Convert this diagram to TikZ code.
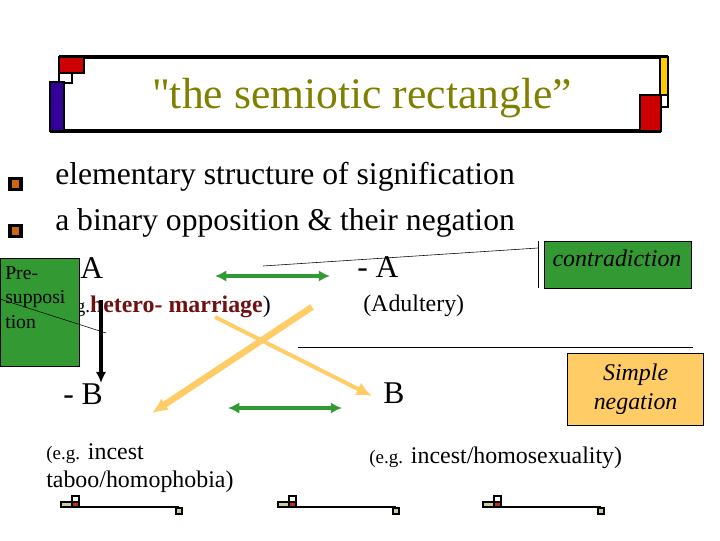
\documentclass[tikz,border=0pt]{standalone}
\usepackage{fontspec}
\setmainfont{Liberation Serif}
\usetikzlibrary{arrows.meta}
\definecolor{olivetitle}{RGB}{128,128,0}
\definecolor{boxgreen}{RGB}{51,153,51}
\definecolor{paleorange}{RGB}{255,204,102}
\definecolor{darkred}{RGB}{112,16,16}
\definecolor{bulletorange}{RGB}{204,102,17}
\definecolor{frameblue}{RGB}{51,0,153}
\definecolor{framered}{RGB}{204,0,0}
\definecolor{frameyellow}{RGB}{255,204,0}
\definecolor{beige}{RGB}{204,204,153}
\definecolor{rust}{RGB}{187,51,17}
\tikzset{
  txt/.style={anchor=base west, inner sep=0pt},
  bigtxt/.style={txt, font=\fontsize{22.5}{27}\selectfont},
  smalltxt/.style={txt, font=\fontsize{17}{20.5}\selectfont},
  framesq/.style={draw, line width=2pt},
  bulletsq/.style={draw, line width=2.8pt, fill=bulletorange, minimum size=0.275cm, inner sep=0pt},
  greenarrow/.style={draw=boxgreen, line width=2.8pt, {Latex[length=8pt,width=8pt]}-{Latex[length=8pt,width=8pt]}},
  orangearrow/.style={draw=paleorange, -{Latex[length=11pt,width=10pt]}},
  tagbox/.style={draw, line width=0.8pt, inner sep=0pt, anchor=north west},
  tagtxt/.style={inner sep=0pt, font=\fontsize{17}{20.5}\selectfont\itshape, align=center},
}
\newcommand{\egsmall}{{\fontsize{13.5}{16}\selectfont(e.g.}}
\begin{document}
\begin{tikzpicture}[x=0.025cm, y=-0.025cm]
\useasboundingbox (0,0) rectangle (720,540);
% title frame
\draw[line width=2.8pt] (59,57) -- (668,57);
\draw[line width=2.8pt] (50,131) -- (661,131);
\filldraw[fill=framered, framesq] (59,57) rectangle (84,73);
\filldraw[fill=white, framesq] (59,73) rectangle (72,83);
\filldraw[fill=frameblue, framesq] (50,82) rectangle (64,131);
\filldraw[fill=frameyellow, framesq] (660,57) rectangle (668,95);
\filldraw[fill=framered, framesq] (640,95) rectangle (661,131);
\filldraw[fill=white, framesq] (661,95) rectangle (668,107);
\node[anchor=base, inner sep=0pt, text=olivetitle, font=\fontsize{31}{37}\selectfont] (title) at (362,108) {{\addfontfeature{Ligatures=TeXOff}"}the semiotic rectangle”};

% bullets
\node[bulletsq] (bulone) at (15.5,184) {};
\node[bulletsq] (bultwo) at (15.5,231) {};
\node[bigtxt] (lineone) at (55,184) {elementary structure of signification};
\node[bigtxt] (linetwo) at (55,230) {a binary opposition \& their negation};

% the four terms
\node[bigtxt] (a) at (80,278) {A};
\node[bigtxt] (nega) at (357,277) {- A};
\node[bigtxt] (negb) at (63,404) {- B};
\node[bigtxt] (b) at (383,403) {B};

\node[smalltxt] (ega) at (56,312) {\egsmall\textbf{\color{darkred}hetero- marriage})};
\node[smalltxt] (egnega) at (363,311) {(Adultery)};
\node[smalltxt] (egnegb) at (46,459) {\egsmall{} incest};
\node[smalltxt] (egnegbb) at (46,487) {taboo/homophobia)};
\node[smalltxt] (egb) at (369,463) {\egsmall{} incest/homosexuality)};

% presupposition
\node[tagbox, fill=boxgreen, minimum width=1.975cm, minimum height=2.7cm] (presup) at (0,258) {};
\node[anchor=north west, inner sep=0pt, align=left, font=\fontsize{14}{17.4}\selectfont] (presuptxt) at (5,266) {Pre-\\supposi\\tion};
\draw (0,299) -- (106,333);
\coordinate (downtop) at (101,300);
\coordinate (downtip) at (101,383);
\draw[line width=2.8pt, -{Latex[length=8pt,width=7.5pt]}] (downtop) -- (downtip);

% contraries
\coordinate (topl) at (215,276);
\coordinate (topr) at (330,276);
\coordinate (botl) at (228,408);
\coordinate (botr) at (342,408);
\draw[greenarrow] (topl) -- (topr);
\draw[greenarrow] (botl) -- (botr);

% contradictions
\coordinate (crossa) at (312,307);
\coordinate (crossatip) at (152,413);
\coordinate (crossb) at (215,317);
\coordinate (crossbtip) at (372,396);
\draw[orangearrow, line width=4.6pt] (crossa) -- (crossatip);
\draw[orangearrow, line width=2.8pt] (crossb) -- (crossbtip);

% side labels
\node[tagbox, fill=boxgreen, minimum width=3.675cm, minimum height=1.175cm] (contra) at (544,241) {};
\node[tagtxt, anchor=base] (contratxt) at (617,266) {contradiction};
\coordinate (contrafoot) at (263,266);
\coordinate (contrabar) at (538,248);
\draw (contrafoot) -- (contrabar);
\draw (538,241) -- (538,288);
\draw (298,347) -- (693,347);
\node[tagbox, fill=paleorange, minimum width=3.4cm, minimum height=1.8cm] (simple) at (567,353) {};
\node[tagtxt] (simpletxt) at (simple.center) {Simple\\negation};

% footer marks
\foreach \dx in {0,217,422} {
  \filldraw[fill=beige, line width=1.3pt] (61+\dx,502) rectangle (72+\dx,507);
  \filldraw[fill=rust, line width=1.3pt] (72+\dx,502) rectangle (79+\dx,507);
  \filldraw[fill=white, line width=1.3pt] (72+\dx,496) rectangle (79+\dx,502);
  \draw[line width=1.5pt] (79+\dx,507) -- (179+\dx,507);
  \filldraw[fill=beige, line width=1.3pt] (176+\dx,508) rectangle (182+\dx,514);
}
\end{tikzpicture}
\end{document}
